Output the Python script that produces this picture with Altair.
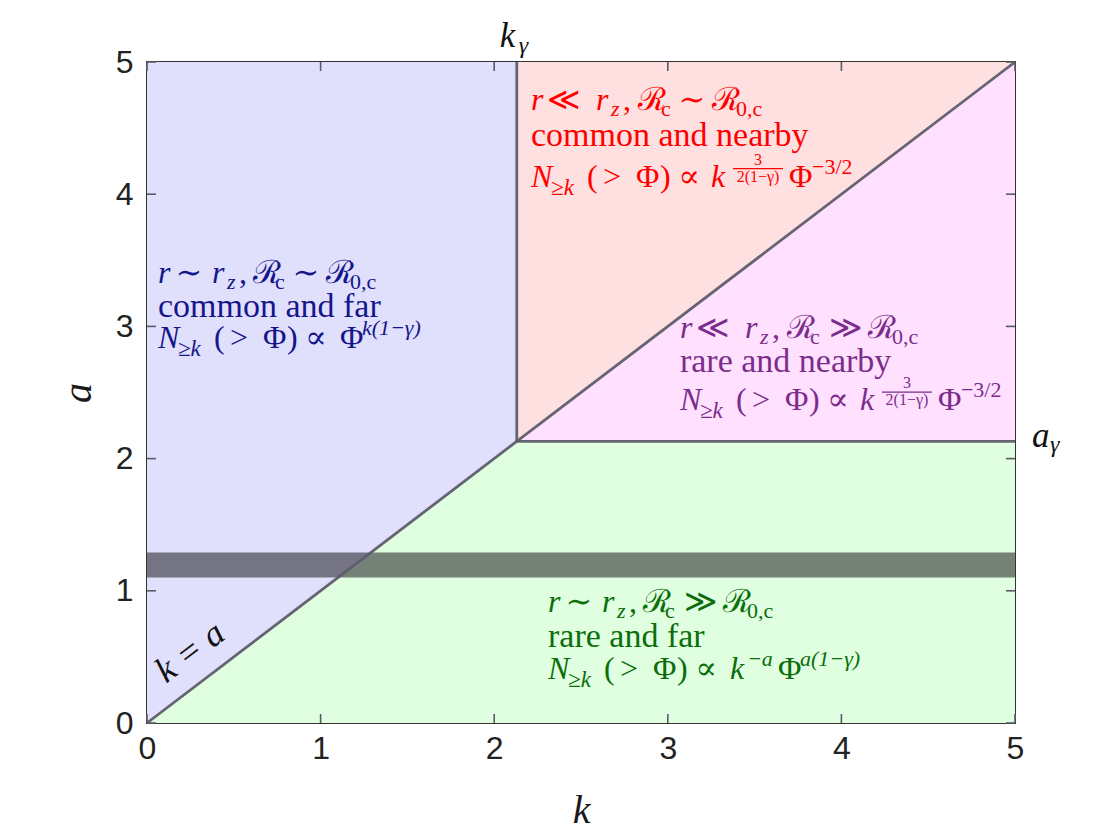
import altair as alt
import pandas as pd

# ---------------- data ----------------
K_GAMMA = 2.13          # k_gamma (vertical boundary)
A_GAMMA = 2.13          # a_gamma (horizontal boundary)
BAND = [1.1, 1.29]      # dark horizontal band in a
AX_MIN, AX_MAX = 0, 5
TICK_VALUES = [0, 1, 2, 3, 4, 5]

# regions: x knots, lower and upper boundaries in a
REG_FAR_COMMON_X = [0, K_GAMMA]
REG_FAR_COMMON_LO = [0, K_GAMMA]
REG_FAR_COMMON_HI = [5, 5]
REG_NEAR_COMMON_X = [K_GAMMA, 5]
REG_NEAR_COMMON_LO = [K_GAMMA, 5]
REG_NEAR_COMMON_HI = [5, 5]
REG_NEAR_RARE_X = [K_GAMMA, 5]
REG_NEAR_RARE_LO = [A_GAMMA, A_GAMMA]
REG_NEAR_RARE_HI = [K_GAMMA, 5]
REG_FAR_RARE_X = [0, K_GAMMA, 5]
REG_FAR_RARE_LO = [0, 0, 0]
REG_FAR_RARE_HI = [0, A_GAMMA, A_GAMMA]

# boundary segments (x, y, x2, y2)
SEG_X = [0, K_GAMMA, K_GAMMA]
SEG_Y = [0, K_GAMMA, A_GAMMA]
SEG_X2 = [5, K_GAMMA, 5]
SEG_Y2 = [5, 5, A_GAMMA]

# text blocks: anchor (k, a), relations, words, exponent type
BLOCK_NAMES = ["far_common", "near_common", "near_rare", "far_rare"]
BLOCK_K = [0.063, 2.212, 3.070, 2.310]
BLOCK_A = [3.328, 4.640, 2.912, 0.840]
BLOCK_REL1 = ["∼", "≪", "≪", "∼"]
BLOCK_REL2 = ["∼", "∼", "≫", "≫"]
BLOCK_WORDS = ["common and far", "common and nearby", "rare and nearby", "rare and far"]
BLOCK_TAIL = ["phi_k", "frac", "frac", "k_phi_a"]

# ---------------- style ----------------
W, H = 868, 661
SERIF = "Liberation Serif, DejaVu Serif, serif"
SANS = "Liberation Sans, Arial, Helvetica, sans-serif"
M, S, F, WORD = 32, 22, 16, 34
BLOCK_COLORS = ["#16168c", "#ff0000", "#7b2d8b", "#0b6e0b"]
LINE2_DY = [34, 36, 34, 35]
LINE3_DY = [65, 77, 72, 67]
FILLS = ["#e0e0fc", "#ffe0e0", "#ffe0ff", "#e0ffe0"]
EDGE = "#5e5c6c"
TICK_COLOR = "#5a5a66"

xs = alt.Scale(domain=[AX_MIN, AX_MAX], nice=False, zero=False)
ys = alt.Scale(domain=[AX_MIN, AX_MAX], nice=False, zero=False)

XAX = alt.Axis(
    values=TICK_VALUES, format="d", title="k", grid=False, domain=False,
    ticks=False, tickSize=0, labelFont=SANS, labelFontSize=32,
    labelColor="#222222", labelPadding=10, labelFlush=False,
    titleFont=SERIF, titleFontStyle="italic", titleFontWeight="normal",
    titleFontSize=40, titleColor="#1a1a1a", titleY=99,
    titleBaseline="alphabetic")
YAX = alt.Axis(
    values=TICK_VALUES, format="d", title="a", grid=False, domain=False,
    ticks=False, tickSize=0, labelFont=SANS, labelFontSize=32,
    labelColor="#222222", labelPadding=14, labelFlush=False,
    titleFont=SERIF, titleFontStyle="italic", titleFontWeight="normal",
    titleFontSize=40, titleColor="#1a1a1a", titleAngle=270,
    titleX=-57, titleY=H / 2, titleAlign="center",
    titleBaseline="alphabetic")


def X(field):
    return alt.X(field, scale=xs, axis=XAX, title="k")


def Y(field):
    return alt.Y(field, scale=ys, axis=YAX, title="a")


layers = []

# regions
regions = [
    (REG_FAR_COMMON_X, REG_FAR_COMMON_LO, REG_FAR_COMMON_HI),
    (REG_NEAR_COMMON_X, REG_NEAR_COMMON_LO, REG_NEAR_COMMON_HI),
    (REG_NEAR_RARE_X, REG_NEAR_RARE_LO, REG_NEAR_RARE_HI),
    (REG_FAR_RARE_X, REG_FAR_RARE_LO, REG_FAR_RARE_HI),
]
for (rx, rlo, rhi), fill in zip(regions, FILLS):
    df = pd.DataFrame({"x": rx, "lo": rlo, "hi": rhi})
    layers.append(
        alt.Chart(df).mark_area(color=fill, opacity=1, interpolate="linear").encode(
            x=X("x:Q"), y=Y("hi:Q"), y2="lo:Q",
        )
    )

# dark band
band_df = pd.DataFrame({"x0": [AX_MIN], "x1": [AX_MAX], "lo": [BAND[0]], "hi": [BAND[1]]})
layers.append(
    alt.Chart(band_df).mark_rect(color="#1c1c22", opacity=0.55).encode(
        x=X("x0:Q"), x2="x1:Q", y=Y("lo:Q"), y2="hi:Q",
    )
)

# boundary lines
seg_df = pd.DataFrame({"x": SEG_X, "y": SEG_Y, "x2": SEG_X2, "y2": SEG_Y2})
layers.append(
    alt.Chart(seg_df).mark_rule(color=EDGE, strokeWidth=2.8, opacity=0.95).encode(
        x=X("x:Q"), x2="x2:Q", y=Y("y:Q"), y2="y2:Q",
    )
)

# inward ticks on all four sides
tick_df = pd.DataFrame({"v": TICK_VALUES})
TL = 9
for y0, y1 in [(H, H - TL), (0, TL)]:
    layers.append(
        alt.Chart(tick_df).mark_rule(color=TICK_COLOR, strokeWidth=1.6).encode(
            x=X("v:Q"), y=alt.value(y0), y2=alt.value(y1)
        )
    )
for x0, x1 in [(0, TL), (W, W - TL)]:
    layers.append(
        alt.Chart(tick_df).mark_rule(color=TICK_COLOR, strokeWidth=1.6).encode(
            y=Y("v:Q"), x=alt.value(x0), x2=alt.value(x1)
        )
    )


def piece(k, a, text, dx, dy, size, style, color, align="left", angle=None,
          baseline="alphabetic"):
    kw = dict(align=align, baseline=baseline, dx=dx, dy=dy, fontSize=size,
              fontStyle=style, font=SERIF, color=color)
    if angle is not None:
        kw["angle"] = angle
    df = pd.DataFrame({"k": [k], "a": [a], "t": [text]})
    return alt.Chart(df).mark_text(**kw).encode(
        x=X("k:Q"), y=Y("a:Q"), text="t:N",
    )


def bar(k, a, x0, x1, dy, color):
    df = pd.DataFrame({"k": [k], "a": [a]})
    return alt.Chart(df).mark_rule(
        color=color, strokeWidth=1.2, xOffset=x0, x2Offset=x1, yOffset=dy, y2Offset=dy
    ).encode(
        x=X("k:Q"), x2="k:Q", y=Y("a:Q"), y2="a:Q",
    )


for i in range(len(BLOCK_NAMES)):
    k, a, col = BLOCK_K[i], BLOCK_A[i], BLOCK_COLORS[i]
    rel1, rel2, words, tail = BLOCK_REL1[i], BLOCK_REL2[i], BLOCK_WORDS[i], BLOCK_TAIL[i]
    # line 1
    if rel1 == "∼":
        o = dict(rel1=31, r2=54, z=69, comma=81, R1=95, c=117, rel2=136)
    else:
        o = dict(rel1=33, r2=65, z=80, comma=92, R1=107, c=130, rel2=149)
    R2 = o["rel2"] + (32 if rel2 == "∼" else 39)
    rel2c = o["rel2"] + (12 if rel2 == "∼" else 17)
    toks = [
        ("r", 0, 0, M, "italic", "left"), (rel1, o["rel1"], 0, M, "normal", "center"),
        ("r", o["r2"], 0, M, "italic", "left"), ("z", o["z"], 6, S, "italic", "left"),
        (",", o["comma"], 0, M, "normal", "left"), ("ℛ", o["R1"], 0, M, "normal", "left"),
        ("c", o["c"], 6, S, "normal", "left"), (rel2, rel2c, 0, M, "normal", "center"),
        ("ℛ", R2, 0, M, "normal", "left"), ("0,c", R2 + 24, 6, S, "normal", "left"),
    ]
    for t, dx, dy, sz, st, al in toks:
        layers.append(piece(k, a, t, dx, dy, sz, st, col, align=al))
    # line 2
    layers.append(piece(k, a, words, 0, LINE2_DY[i], WORD, "normal", col))
    # line 3
    d3 = LINE3_DY[i]
    toks = [
        ("N", 0, 0, M, "italic", "left"), ("≥k", 20, 8, S + 1, "italic", "left"),
        ("(", 56, 0, M, "normal", "left"), (">", 81, 0, M, "normal", "center"),
        ("Φ", 105, 0, M, "normal", "left"), (")", 129, 0, M, "normal", "left"),
        ("∝", 158, 0, M, "normal", "center"),
    ]
    if tail == "phi_k":
        toks += [("Φ", 182, 0, M, "normal", "left"),
                 ("k(1−γ)", 204, -13, S, "italic", "left")]
    elif tail == "k_phi_a":
        toks += [("k", 182, 0, M, "italic", "left"), ("−a", 199, -13, S, "italic", "left"),
                 ("Φ", 230, 0, M, "normal", "left"),
                 ("a(1−γ)", 252, -13, S, "italic", "left")]
    else:
        toks += [("k", 180, 0, M, "italic", "left"), ("Φ", 258, 0, M, "normal", "left"),
                 ("−3/2", 281, -13, S, "normal", "left")]
        layers.append(piece(k, a, "3", 227, d3 - 22, F, "normal", col, align="center"))
        layers.append(piece(k, a, "2(1−γ)", 227, d3 - 5, F, "normal", col, align="center"))
        layers.append(bar(k, a, 202, 252, d3 - 18, col))
    for t, dx, dy, sz, st, al in toks:
        layers.append(piece(k, a, t, dx, d3 + dy, sz, st, col, align=al))

# k_gamma, a_gamma labels and k = a
layers.append(piece(K_GAMMA, AX_MAX, "k", -17, -15, 35, "italic", "#111111"))
layers.append(piece(K_GAMMA, AX_MAX, "γ", 2, -9, 24, "italic", "#111111"))
layers.append(piece(AX_MAX, A_GAMMA, "a", 17, 6, 35, "italic", "#111111"))
layers.append(piece(AX_MAX, A_GAMMA, "γ", 35, 11, 24, "italic", "#111111"))
layers.append(piece(0.248, 0.537, "k = a", 0, 0, 36, "italic", "#111111",
                    align="center", angle=323, baseline="middle"))

chart = alt.layer(*layers).properties(
    width=W, height=H,
    autosize=alt.AutoSizeParams(type="none"),
    padding={"left": 139, "top": 54, "right": 97, "bottom": 109},
).configure_view(stroke="#333333", strokeWidth=2)

chart.save("out.html", embed_options={"renderer": "svg", "actions": False})
